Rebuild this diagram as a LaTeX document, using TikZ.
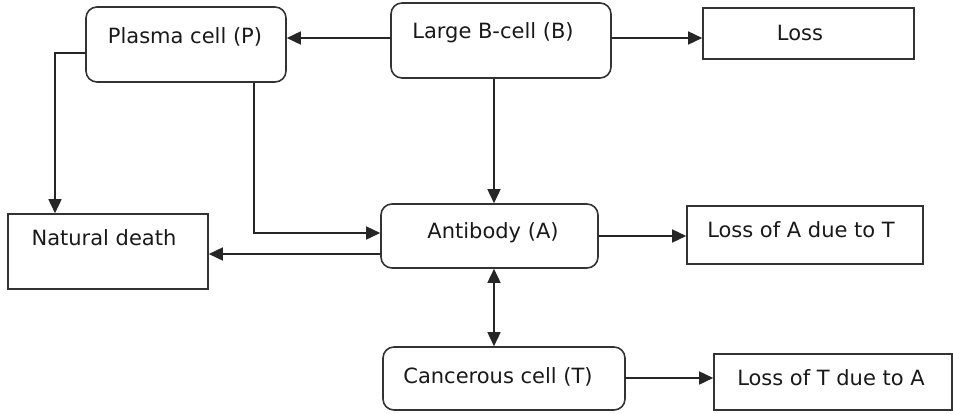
\documentclass[tikz,border=0pt]{standalone}
\usepackage{fontspec}
\setmainfont{DejaVu Sans}
\usetikzlibrary{arrows.meta}
\begin{document}
\begin{tikzpicture}[x=1pt,y=-1pt,
  every node/.style={font=\fontsize{21}{25}\selectfont, text=black!90},
  rbox/.style={draw=black!80, line width=1.6pt, rounded corners=11pt, inner sep=0pt},
  sbox/.style={draw=black!80, line width=1.6pt, inner sep=0pt},
  lbl/.style={inner sep=0pt, anchor=center},
  conn/.style={draw=black!85, line width=1.6pt, -{Triangle[length=14pt,width=13pt]}},
  biconn/.style={draw=black!85, line width=1.6pt, {Triangle[length=14pt,width=13pt]}-{Triangle[length=14pt,width=13pt]}}]
\useasboundingbox (0,0) rectangle (953,413);
% boxes
\node[rbox, minimum width=200pt, minimum height=75pt] (P) at (186,44.5) {};
\node[rbox, minimum width=220pt, minimum height=75pt] (B) at (501,40.5) {};
\node[sbox, minimum width=211pt, minimum height=51pt] (L) at (808.5,33.5) {};
\node[sbox, minimum width=200pt, minimum height=75pt] (N) at (108,251.5) {};
\node[rbox, minimum width=217pt, minimum height=64pt] (A) at (489.5,236) {};
\node[sbox, minimum width=236pt, minimum height=58pt] (LA) at (805,235) {};
\node[rbox, minimum width=242pt, minimum height=63pt] (T) at (504,378.5) {};
\node[sbox, minimum width=238pt, minimum height=56pt] (LT) at (833,382) {};
% labels
\node[lbl] (tP) at (185,37) {Plasma cell (P)};
\node[lbl] (tB) at (493,33) {Large B-cell (B)};
\node[lbl] (tL) at (800,33) {Loss};
\node[lbl] (tN) at (104,238) {Natural death};
\node[lbl] (tA) at (493,233) {Antibody (A)};
\node[lbl] (tLA) at (801,230) {Loss of A due to T};
\node[lbl] (tT) at (498,377) {Cancerous cell (T)};
\node[lbl] (tLT) at (831,378) {Loss of T due to A};
% helper coordinates
\coordinate (mid) at (494,0);
\coordinate (pl) at (55,53);
\coordinate (pr) at (254,233);
\coordinate (an) at (300,254);
\coordinate (bl) at (0,38);
\coordinate (tl) at (0,378);
% connectors
\draw[conn] (B.west |- bl) -- (P.east |- bl);
\draw[conn] (B.east |- bl) -- (L.west |- bl);
\draw[conn] (B.south -| mid) -- (A.north -| mid);
\draw[biconn] (A.south -| mid) -- (T.north -| mid);
\draw[conn] (P.west |- pl) -- (pl) -- (N.north -| pl);
\draw[conn] (P.south -| pr) -- (pr) -- (A.west |- pr);
\draw[conn] (A.west |- an) -- (N.east |- an);
\draw[conn] (A.east) -- (A.east -| LA.west);
\draw[conn] (T.east |- tl) -- (LT.west |- tl);
\end{tikzpicture}
\end{document}
